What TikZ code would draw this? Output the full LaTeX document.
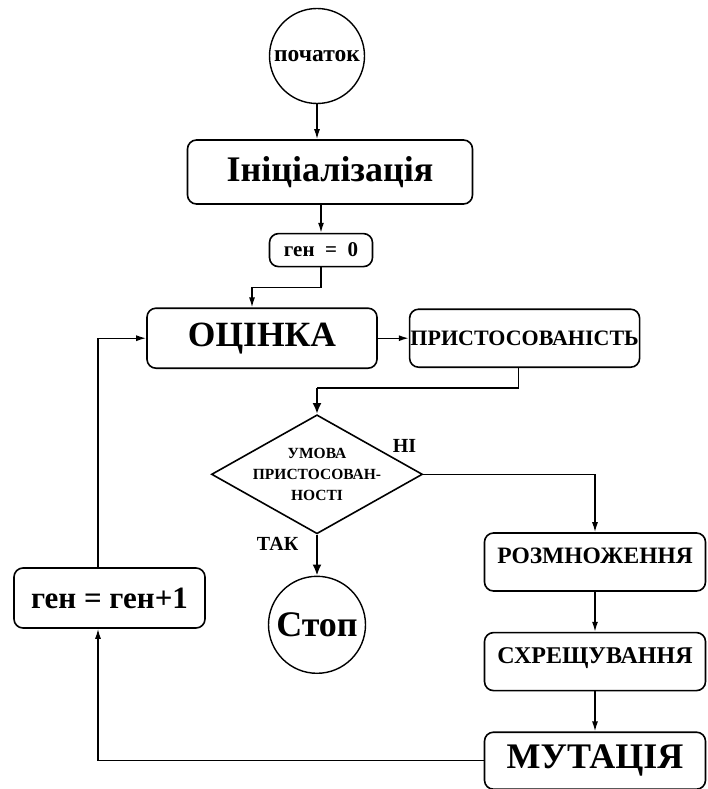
\documentclass[tikz,border=0pt]{standalone}
\usepackage{fontspec}
\setmainfont{Liberation Serif}[BoldFont={Liberation Serif Bold}]
\usetikzlibrary{shapes.geometric,positioning,arrows.meta}

\tikzset{
  block/.style={draw, line width=1.6pt, rounded corners=9pt, inner sep=0pt},
  terminal/.style={draw, circle, line width=1.4pt, inner sep=0pt},
  decision/.style={draw, diamond, aspect=1.77, line width=1.6pt, inner sep=-15pt,
    minimum width=211pt, minimum height=119pt, align=center,
    font=\bfseries\fontsize{15.5}{21}\selectfont},
  flow/.style={->, line width=1.4pt},
  boldflow/.style={-{Latex[length=11pt,width=9pt]}, line width=2.8pt}
}

\begin{document}
\begin{tikzpicture}[x=1pt, y=1pt, >={Latex[length=10pt,width=6pt]}]
\useasboundingbox (0,0) rectangle (708,-789);

		\node[terminal, minimum size=95pt,
		  font=\bfseries\fontsize{23.5}{26}\selectfont] (start) at (317,-56) {початок};

		\node[block, below=35pt of start, xshift=13pt, minimum width=285pt, minimum height=64pt,
		  font=\bfseries\fontsize{36}{40}\selectfont] (init) {Ініціалізація};

		\node[block, below=28pt of init, xshift=-9pt, minimum width=103pt, minimum height=33pt,
		  font=\bfseries\fontsize{21}{24}\selectfont] (gen0) {ген ~=~ 0};

		\node[block, below=40pt of gen0, xshift=-59pt, minimum width=230pt, minimum height=60pt,
		  font=\bfseries\fontsize{35.5}{40}\selectfont] (eval) {ОЦІНКА};

		\node[block, right=31pt of eval, minimum width=230pt, minimum height=58pt,
		  font=\bfseries\fontsize{22}{25}\selectfont] (fit) {ПРИСТОСОВАНІСТЬ};

		\node[decision, below=45pt of eval, xshift=55pt] (cond)
		{УМОВА\\ПРИСТОСОВАН-\\НОСТІ};

		\node[terminal, below=41pt of cond, minimum size=97pt,
		  font=\bfseries\fontsize{36}{40}\selectfont] (stop) {Стоп};

		\node[block, minimum width=221pt, minimum height=58pt, text depth=12pt,
		  font=\bfseries\fontsize{23.5}{27}\selectfont] (repr) at (595,-562) {РОЗМНОЖЕННЯ};

		\node[block, below=40pt of repr, minimum width=221pt, minimum height=58pt, text depth=12pt,
		  font=\bfseries\fontsize{24}{27}\selectfont] (cross) {СХРЕЩУВАННЯ};

		\node[block, below=40pt of cross, minimum width=221pt, minimum height=57pt,
		  font=\bfseries\fontsize{36}{40}\selectfont] (mut) {МУТАЦІЯ};

		\node[block, minimum width=191pt, minimum height=60pt,
		  font=\bfseries\fontsize{31}{35}\selectfont] (incr) at (109.5,-598) {ген = ген+1};

		\coordinate[above=26pt of cond.north] (tocond);

		\draw[flow] (start.south) -- (start.south |- init.north);
		\draw[flow] (init.south -| gen0) -- (gen0.north);
		\draw[flow] (gen0.south) -- ++(0,-20) -| ([xshift=-10pt]eval.north);
		\draw[flow] (eval) -- (fit);
		\draw[line width=1.4pt] ([xshift=-6pt]fit.south) |- (tocond);
		\draw[boldflow] (tocond) -- (cond.north);

		\draw[boldflow] (cond.south) -- node[pos=0.22, left=14pt,
		  font=\bfseries\fontsize{20}{22}\selectfont] {ТАК} (stop.north);

		\draw[flow] (cond.east) -| node[pos=0, anchor=south east, xshift=-3pt, yshift=18pt,
		  font=\bfseries\fontsize{20}{22}\selectfont] {НІ} (repr.north);

		\draw[flow] (repr) -- (cross);
		\draw[flow] (cross) -- (mut);
		\draw[flow] (mut.west) -| ([xshift=-11.5pt]incr.south);
		\draw[flow] ([xshift=-11.5pt]incr.north) |- (eval.west);

\end{tikzpicture}
\end{document}
